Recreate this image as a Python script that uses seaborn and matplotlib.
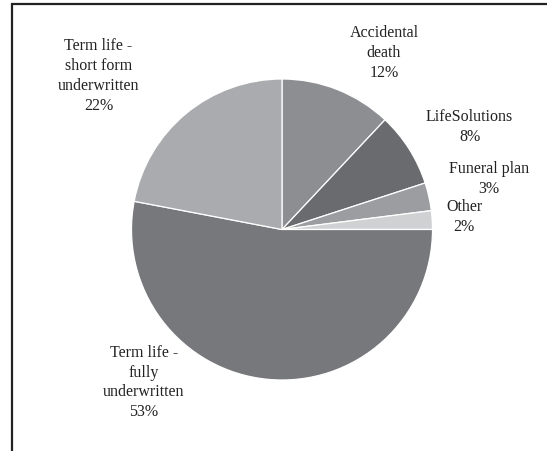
import matplotlib
matplotlib.use("Agg")
import matplotlib.pyplot as plt
import seaborn as sns
from matplotlib.patches import Rectangle

sns.set_theme(style="white")
plt.rcParams['font.family'] = ['Liberation Serif', 'DejaVu Serif']

categories = ["Accidental\ndeath", "LifeSolutions", "Funeral plan", "Other",
              "Term life -\nfully\nunderwritten", "Term life -\nshort form\nunderwritten"]
values = [12, 8, 3, 2, 53, 22]
colors = ["#8d8e92", "#6a6b6f", "#9c9da1", "#d0d1d3", "#77787c", "#aaabaf"]
# label anchor positions in units of pie radius (x, y)
label_pos = [(0.678, 1.173), (1.246, 0.68), (1.375, 0.336), (1.21, 0.083),
             (-0.917, -1.017), (-1.22, 1.02)]

W, H = 547, 451
fig = plt.figure(figsize=(W / 100, H / 100), dpi=100)
ax = fig.add_axes([0, 0, 1, 1])
cx, cy, r = 282, 229.5, 150.5

wedges, _ = ax.pie(values, colors=colors, startangle=90, counterclock=False,
                   radius=1.0, wedgeprops=dict(edgecolor="white", linewidth=0.9))
for cat, v, (lx, ly) in zip(categories, values, label_pos):
    ax.text(lx, ly, f"{cat}\n{v}%", ha="center", va="center", fontsize=11.5,
            color="#222222", linespacing=1.32)

ax.set_xlim(-cx / r, (W - cx) / r)
ax.set_ylim(-(H - cy) / r, cy / r)
ax.set_aspect("auto")
ax.axis("off")

fig.patches.append(Rectangle((12 / W, -0.1), 1.2, (H - 4) / H + 0.1,
                             transform=fig.transFigure, fill=False,
                             edgecolor="#222222", linewidth=1.6))
fig.savefig("out.png", dpi=100)
